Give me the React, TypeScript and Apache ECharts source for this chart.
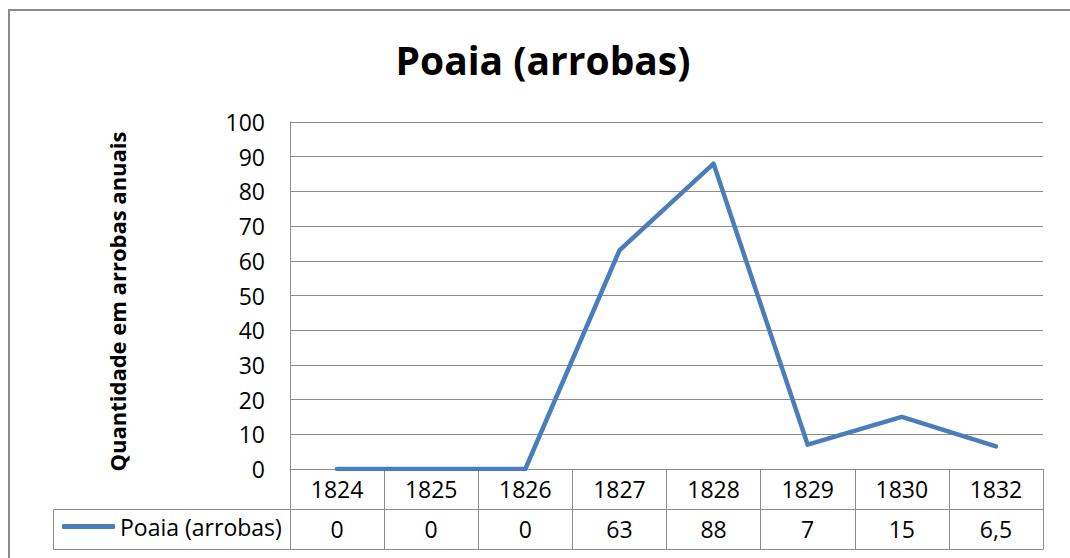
import React, { useEffect, useRef } from "react";
import * as echarts from "echarts";

const TITLE = "Poaia (arrobas)";
const SERIES_NAME = "Poaia (arrobas)";
const Y_AXIS_NAME = "Quantidade em arrobas anuais";
const YEARS = ["1824", "1825", "1826", "1827", "1828", "1829", "1830", "1832"];
const VALUES = [0, 0, 0, 63, 88, 7, 15, 6.5];
const Y_MIN = 0;
const Y_MAX = 100;
const Y_STEP = 10;

const FONT = "'Open Sans', Lato, sans-serif";
const GRAY = "#8c8c8c";
const BLUE = "#4a7ebb";
const LABEL_SIZE = 23;

export default function App() {
  const ref = useRef<HTMLDivElement>(null);
  useEffect(() => {
    if (!ref.current) return;
    const chart = echarts.init(ref.current, null, { renderer: "svg" });
    const valueLabels = VALUES.map((v) => String(v).replace(".", ","));
    chart.setOption({
      animation: false,
      backgroundColor: "#ffffff",
      textStyle: { fontFamily: FONT, color: "#000" },
      title: {
        text: TITLE,
        left: 538,
        textAlign: "center",
        top: 35,
        textStyle: { fontFamily: FONT, fontSize: 39, fontWeight: "bold", color: "#000" },
      },
      legend: {
        left: 57,
        bottom: 15,
        padding: 5,
        itemWidth: 53,
        itemHeight: 5,
        icon: "roundRect",
        data: [SERIES_NAME],
        textStyle: { fontFamily: FONT, fontSize: LABEL_SIZE, color: "#000", padding: [0, 0, 0, 0] },
        selectedMode: false,
      },
      grid: { left: 290, right: 27, top: 122, bottom: 89, containLabel: false },
      xAxis: [
        {
          type: "category",
          data: YEARS,
          boundaryGap: true,
          axisLine: { show: true, lineStyle: { color: GRAY, width: 1 } },
          axisTick: { show: true, length: 80, lineStyle: { color: GRAY, width: 1 } },
          axisLabel: { fontFamily: FONT, fontSize: LABEL_SIZE, color: "#000", margin: 8, interval: 0 },
          splitLine: { show: false },
        },
        {
          type: "category",
          data: valueLabels,
          position: "bottom",
          offset: 40,
          boundaryGap: true,
          axisLine: { show: false },
          axisTick: { show: false },
          axisLabel: { fontFamily: FONT, fontSize: LABEL_SIZE, color: "#000", margin: 8, interval: 0 },
          splitLine: { show: false },
        },
      ],
      yAxis: {
        type: "value",
        min: Y_MIN,
        max: Y_MAX,
        interval: Y_STEP,
        name: Y_AXIS_NAME,
        nameLocation: "middle",
        nameRotate: 90,
        nameGap: 162,
        nameTextStyle: {
          fontFamily: FONT,
          fontSize: 22,
          fontWeight: "bold",
          color: "#000",
          padding: [0, 12, 0, 0],
        },
        axisLine: { show: true, lineStyle: { color: GRAY, width: 1 } },
        axisTick: { show: false },
        axisLabel: { fontFamily: FONT, fontSize: LABEL_SIZE, color: "#000", margin: 25 },
        splitLine: { show: true, lineStyle: { color: GRAY, width: 1 } },
      },
      series: [
        {
          name: SERIES_NAME,
          type: "line",
          xAxisIndex: 0,
          data: VALUES,
          showSymbol: false,
          symbol: "none",
          color: BLUE,
          itemStyle: { color: BLUE },
          lineStyle: { color: BLUE, width: 4.5, cap: "round", join: "round" },
        },
      ],
      graphic: [
        {
          type: "rect",
          silent: true,
          shape: { x: 9, y: 10, width: 1100, height: 600 },
          style: { fill: "none", stroke: GRAY, lineWidth: 2 },
          z: -1,
        },
        {
          type: "line",
          silent: true,
          shape: { x1: 53.5, y1: 509.5, x2: 1043.5, y2: 509.5 },
          style: { stroke: GRAY, lineWidth: 1 },
        },
        {
          type: "line",
          silent: true,
          shape: { x1: 53.5, y1: 549.5, x2: 1043.5, y2: 549.5 },
          style: { stroke: GRAY, lineWidth: 1 },
        },
        {
          type: "line",
          silent: true,
          shape: { x1: 53.5, y1: 509.5, x2: 53.5, y2: 549.5 },
          style: { stroke: GRAY, lineWidth: 1 },
        },
      ],
    });
    return () => chart.dispose();
  }, []);
  return (
    <div
      ref={ref}
      style={{ position: "absolute", left: 0, top: 0, width: 1070, height: 558 }}
    />
  );
}
